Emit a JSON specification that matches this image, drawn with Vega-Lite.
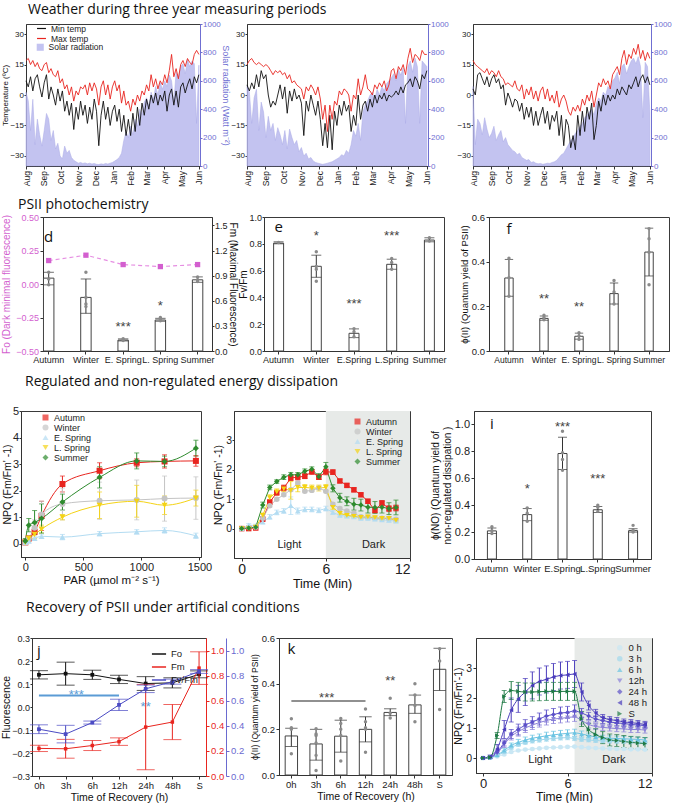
{
"$schema":"https://vega.github.io/schema/vega-lite/v6.json",
"background":"white",
"padding":{"left":0,"top":2,"right":0,"bottom":0},
"config":{
 "font":"Liberation Sans",
 "view":{"stroke":"#3a3a3a","strokeWidth":1},
 "axis":{"labelFont":"Liberation Sans","titleFont":"Liberation Sans","labelFontSize":9,"titleFontSize":10,"titleFontWeight":"normal","labelColor":"#222","titleColor":"#111","domainColor":"#333","tickColor":"#333","tickSize":3,"labelPadding":1.5,"titlePadding":2,"grid":false,"labelOverlap":false,"labelBound":false},
 "legend":{"labelFont":"Liberation Sans","labelColor":"#222","labelFontSize":9,"padding":0,"rowPadding":0,"symbolStrokeWidth":0,"titlePadding":0},
 "title":{"font":"Open Sans","fontSize":14,"fontWeight":"normal","anchor":"start","color":"#111","offset":4},
 "text":{"font":"Liberation Sans"}
},
"datasets":{
"w":[
{"p":"a","date":"2013-08-01","min":7,"max":17,"sol":520},{"p":"a","date":"2013-08-05","min":4,"max":18,"sol":460},{"p":"a","date":"2013-08-09","min":9,"max":15,"sol":250},{"p":"a","date":"2013-08-13","min":2,"max":17,"sol":470},{"p":"a","date":"2013-08-17","min":8,"max":14,"sol":150},{"p":"a","date":"2013-08-21","min":10,"max":16,"sol":330},{"p":"a","date":"2013-08-25","min":4,"max":13,"sol":220},{"p":"a","date":"2013-08-29","min":-1,"max":12,"sol":140},
{"p":"a","date":"2013-09-02","min":6,"max":15,"sol":250},{"p":"a","date":"2013-09-06","min":10,"max":16,"sol":370},{"p":"a","date":"2013-09-10","min":-2,"max":11,"sol":330},{"p":"a","date":"2013-09-14","min":4,"max":13,"sol":180},{"p":"a","date":"2013-09-18","min":0,"max":10,"sol":250},{"p":"a","date":"2013-09-22","min":-5,"max":9,"sol":120},{"p":"a","date":"2013-09-26","min":3,"max":12,"sol":160},{"p":"a","date":"2013-09-30","min":-3,"max":6,"sol":70},
{"p":"a","date":"2013-10-04","min":2,"max":8,"sol":50},{"p":"a","date":"2013-10-08","min":-8,"max":3,"sol":140},{"p":"a","date":"2013-10-12","min":-3,"max":5,"sol":90},{"p":"a","date":"2013-10-16","min":-10,"max":0,"sol":110},{"p":"a","date":"2013-10-20","min":-4,"max":4,"sol":60},{"p":"a","date":"2013-10-24","min":-17,"max":-3,"sol":40},{"p":"a","date":"2013-10-28","min":-6,"max":2,"sol":30},
{"p":"a","date":"2013-11-01","min":-12,"max":0,"sol":20},{"p":"a","date":"2013-11-05","min":-3,"max":4,"sol":25},{"p":"a","date":"2013-11-09","min":-10,"max":3,"sol":18},{"p":"a","date":"2013-11-13","min":-5,"max":5,"sol":22},{"p":"a","date":"2013-11-17","min":-14,"max":0,"sol":15},{"p":"a","date":"2013-11-21","min":-6,"max":6,"sol":20},{"p":"a","date":"2013-11-25","min":-12,"max":2,"sol":14},{"p":"a","date":"2013-11-29","min":-2,"max":6,"sol":18},
{"p":"a","date":"2013-12-03","min":-8,"max":3,"sol":12},{"p":"a","date":"2013-12-07","min":-25,"max":-5,"sol":10},{"p":"a","date":"2013-12-11","min":-10,"max":4,"sol":15},{"p":"a","date":"2013-12-15","min":-3,"max":7,"sol":12},{"p":"a","date":"2013-12-19","min":-12,"max":0,"sol":18},{"p":"a","date":"2013-12-23","min":-6,"max":5,"sol":14},{"p":"a","date":"2013-12-27","min":-15,"max":-2,"sol":20},{"p":"a","date":"2013-12-31","min":-8,"max":4,"sol":25},
{"p":"a","date":"2014-01-04","min":-5,"max":7,"sol":35},{"p":"a","date":"2014-01-08","min":-13,"max":2,"sol":45},{"p":"a","date":"2014-01-12","min":-7,"max":5,"sol":60},{"p":"a","date":"2014-01-16","min":-18,"max":-4,"sol":90},{"p":"a","date":"2014-01-20","min":-10,"max":2,"sol":180},{"p":"a","date":"2014-01-24","min":-20,"max":-5,"sol":240},{"p":"a","date":"2014-01-28","min":-12,"max":-3,"sol":200},
{"p":"a","date":"2014-02-01","min":-20,"max":-8,"sol":280},{"p":"a","date":"2014-02-05","min":-9,"max":-2,"sol":220},{"p":"a","date":"2014-02-09","min":-18,"max":-5,"sol":330},{"p":"a","date":"2014-02-13","min":-6,"max":0,"sol":280},{"p":"a","date":"2014-02-17","min":-15,"max":-3,"sol":400},{"p":"a","date":"2014-02-21","min":-4,"max":2,"sol":360},{"p":"a","date":"2014-02-25","min":-10,"max":0,"sol":450},
{"p":"a","date":"2014-03-01","min":-2,"max":5,"sol":480},{"p":"a","date":"2014-03-05","min":-7,"max":2,"sol":420},{"p":"a","date":"2014-03-09","min":0,"max":10,"sol":520},{"p":"a","date":"2014-03-13","min":-4,"max":4,"sol":470},{"p":"a","date":"2014-03-17","min":1,"max":8,"sol":560},{"p":"a","date":"2014-03-21","min":-5,"max":3,"sol":500},{"p":"a","date":"2014-03-25","min":0,"max":7,"sol":590},{"p":"a","date":"2014-03-29","min":-3,"max":5,"sol":540},
{"p":"a","date":"2014-04-02","min":2,"max":10,"sol":600},{"p":"a","date":"2014-04-06","min":-8,"max":6,"sol":560},{"p":"a","date":"2014-04-10","min":0,"max":12,"sol":640},{"p":"a","date":"2014-04-14","min":3,"max":20,"sol":600},{"p":"a","date":"2014-04-18","min":-5,"max":9,"sol":450},{"p":"a","date":"2014-04-22","min":2,"max":13,"sol":660},{"p":"a","date":"2014-04-26","min":-6,"max":8,"sol":620},{"p":"a","date":"2014-04-30","min":4,"max":15,"sol":700},
{"p":"a","date":"2014-05-04","min":6,"max":17,"sol":720},{"p":"a","date":"2014-05-08","min":1,"max":14,"sol":650},{"p":"a","date":"2014-05-12","min":5,"max":18,"sol":750},{"p":"a","date":"2014-05-16","min":8,"max":16,"sol":700},{"p":"a","date":"2014-05-20","min":3,"max":15,"sol":740},{"p":"a","date":"2014-05-24","min":9,"max":20,"sol":720},{"p":"a","date":"2014-05-28","min":6,"max":22,"sol":300},{"p":"a","date":"2014-06-01","min":10,"max":20,"sol":710},

{"p":"b","date":"2013-08-01","min":5,"max":15,"sol":560},{"p":"b","date":"2013-08-05","min":2,"max":17,"sol":520},{"p":"b","date":"2013-08-09","min":6,"max":18,"sol":300},{"p":"b","date":"2013-08-13","min":3,"max":16,"sol":480},{"p":"b","date":"2013-08-17","min":10,"max":15,"sol":540},{"p":"b","date":"2013-08-21","min":4,"max":16,"sol":250},{"p":"b","date":"2013-08-25","min":12,"max":15,"sol":450},{"p":"b","date":"2013-08-29","min":8,"max":14,"sol":380},
{"p":"b","date":"2013-09-02","min":10,"max":15,"sol":200},{"p":"b","date":"2013-09-06","min":0,"max":14,"sol":350},{"p":"b","date":"2013-09-10","min":-6,"max":12,"sol":250},{"p":"b","date":"2013-09-14","min":-3,"max":10,"sol":300},{"p":"b","date":"2013-09-18","min":-5,"max":12,"sol":180},{"p":"b","date":"2013-09-22","min":0,"max":11,"sol":270},{"p":"b","date":"2013-09-26","min":5,"max":12,"sol":220},{"p":"b","date":"2013-09-30","min":-2,"max":10,"sol":150},
{"p":"b","date":"2013-10-04","min":4,"max":11,"sol":250},{"p":"b","date":"2013-10-08","min":-9,"max":8,"sol":120},{"p":"b","date":"2013-10-12","min":2,"max":10,"sol":260},{"p":"b","date":"2013-10-16","min":-3,"max":6,"sol":200},{"p":"b","date":"2013-10-20","min":3,"max":7,"sol":150},{"p":"b","date":"2013-10-24","min":-2,"max":5,"sol":180},{"p":"b","date":"2013-10-28","min":0,"max":4,"sol":100},
{"p":"b","date":"2013-11-01","min":-4,"max":3,"sol":130},{"p":"b","date":"2013-11-05","min":-20,"max":-2,"sol":70},{"p":"b","date":"2013-11-09","min":-3,"max":4,"sol":90},{"p":"b","date":"2013-11-13","min":-8,"max":2,"sol":50},{"p":"b","date":"2013-11-17","min":0,"max":5,"sol":60},{"p":"b","date":"2013-11-21","min":-5,"max":3,"sol":35},{"p":"b","date":"2013-11-25","min":-10,"max":0,"sol":25},{"p":"b","date":"2013-11-29","min":-3,"max":4,"sol":20},
{"p":"b","date":"2013-12-03","min":-12,"max":-2,"sol":15},{"p":"b","date":"2013-12-07","min":-25,"max":-12,"sol":12},{"p":"b","date":"2013-12-11","min":-14,"max":-5,"sol":15},{"p":"b","date":"2013-12-15","min":-26,"max":-18,"sol":20},{"p":"b","date":"2013-12-19","min":-10,"max":-5,"sol":25},{"p":"b","date":"2013-12-23","min":-27,"max":-12,"sol":30},{"p":"b","date":"2013-12-27","min":-8,"max":-3,"sol":40},{"p":"b","date":"2013-12-31","min":-15,"max":-5,"sol":50},
{"p":"b","date":"2014-01-04","min":-5,"max":2,"sol":60},{"p":"b","date":"2014-01-08","min":-10,"max":0,"sol":80},{"p":"b","date":"2014-01-12","min":-3,"max":3,"sol":70},{"p":"b","date":"2014-01-16","min":-8,"max":2,"sol":110},{"p":"b","date":"2014-01-20","min":-5,"max":0,"sol":90},{"p":"b","date":"2014-01-24","min":-18,"max":-8,"sol":150},{"p":"b","date":"2014-01-28","min":-10,"max":0,"sol":250},
{"p":"b","date":"2014-02-01","min":-15,"max":-2,"sol":210},{"p":"b","date":"2014-02-05","min":0,"max":8,"sol":300},{"p":"b","date":"2014-02-09","min":-12,"max":0,"sol":180},{"p":"b","date":"2014-02-13","min":-5,"max":4,"sol":380},{"p":"b","date":"2014-02-17","min":-3,"max":10,"sol":430},{"p":"b","date":"2014-02-21","min":-8,"max":3,"sol":460},{"p":"b","date":"2014-02-25","min":-2,"max":2,"sol":500},
{"p":"b","date":"2014-03-01","min":-6,"max":0,"sol":520},{"p":"b","date":"2014-03-05","min":0,"max":5,"sol":470},{"p":"b","date":"2014-03-09","min":-4,"max":3,"sol":540},{"p":"b","date":"2014-03-13","min":0,"max":6,"sol":500},{"p":"b","date":"2014-03-17","min":-2,"max":4,"sol":560},{"p":"b","date":"2014-03-21","min":1,"max":7,"sol":530},{"p":"b","date":"2014-03-25","min":-3,"max":2,"sol":580},{"p":"b","date":"2014-03-29","min":0,"max":5,"sol":600},
{"p":"b","date":"2014-04-02","min":-1,"max":12,"sol":620},{"p":"b","date":"2014-04-06","min":0,"max":13,"sol":650},{"p":"b","date":"2014-04-10","min":2,"max":8,"sol":600},{"p":"b","date":"2014-04-14","min":0,"max":14,"sol":680},{"p":"b","date":"2014-04-18","min":4,"max":12,"sol":640},{"p":"b","date":"2014-04-22","min":1,"max":15,"sol":690},{"p":"b","date":"2014-04-26","min":5,"max":10,"sol":300},{"p":"b","date":"2014-04-30","min":6,"max":18,"sol":700},
{"p":"b","date":"2014-05-04","min":8,"max":23,"sol":740},{"p":"b","date":"2014-05-08","min":4,"max":16,"sol":660},{"p":"b","date":"2014-05-12","min":9,"max":20,"sol":760},{"p":"b","date":"2014-05-16","min":7,"max":19,"sol":700},{"p":"b","date":"2014-05-20","min":3,"max":17,"sol":300},{"p":"b","date":"2014-05-24","min":10,"max":22,"sol":740},{"p":"b","date":"2014-05-28","min":8,"max":20,"sol":720},{"p":"b","date":"2014-06-01","min":12,"max":20,"sol":700},

{"p":"c","date":"2013-08-01","min":3,"max":17,"sol":560},{"p":"c","date":"2013-08-05","min":0,"max":15,"sol":150},{"p":"c","date":"2013-08-09","min":10,"max":14,"sol":330},{"p":"c","date":"2013-08-13","min":11,"max":13,"sol":300},{"p":"c","date":"2013-08-17","min":8,"max":12,"sol":220},{"p":"c","date":"2013-08-21","min":5,"max":11,"sol":340},{"p":"c","date":"2013-08-25","min":9,"max":13,"sol":260},{"p":"c","date":"2013-08-29","min":4,"max":10,"sol":200},
{"p":"c","date":"2013-09-02","min":8,"max":12,"sol":230},{"p":"c","date":"2013-09-06","min":10,"max":11,"sol":280},{"p":"c","date":"2013-09-10","min":6,"max":9,"sol":180},{"p":"c","date":"2013-09-14","min":8,"max":12,"sol":220},{"p":"c","date":"2013-09-18","min":3,"max":9,"sol":250},{"p":"c","date":"2013-09-22","min":5,"max":8,"sol":170},{"p":"c","date":"2013-09-26","min":-5,"max":5,"sol":200},{"p":"c","date":"2013-09-30","min":1,"max":6,"sol":150},
{"p":"c","date":"2013-10-04","min":-2,"max":5,"sol":130},{"p":"c","date":"2013-10-08","min":-6,"max":4,"sol":110},{"p":"c","date":"2013-10-12","min":-2,"max":7,"sol":100},{"p":"c","date":"2013-10-16","min":-3,"max":3,"sol":80},{"p":"c","date":"2013-10-20","min":-8,"max":2,"sol":90},{"p":"c","date":"2013-10-24","min":-4,"max":5,"sol":60},{"p":"c","date":"2013-10-28","min":-12,"max":-2,"sol":50},
{"p":"c","date":"2013-11-01","min":-6,"max":3,"sol":40},{"p":"c","date":"2013-11-05","min":-11,"max":0,"sol":45},{"p":"c","date":"2013-11-09","min":-6,"max":4,"sol":25},{"p":"c","date":"2013-11-13","min":-15,"max":-2,"sol":30},{"p":"c","date":"2013-11-17","min":-8,"max":2,"sol":20},{"p":"c","date":"2013-11-21","min":-15,"max":-3,"sol":15},{"p":"c","date":"2013-11-25","min":-10,"max":2,"sol":18},{"p":"c","date":"2013-11-29","min":-6,"max":4,"sol":12},
{"p":"c","date":"2013-12-03","min":-14,"max":-2,"sol":15},{"p":"c","date":"2013-12-07","min":-8,"max":3,"sol":20},{"p":"c","date":"2013-12-11","min":-17,"max":-3,"sol":18},{"p":"c","date":"2013-12-15","min":-10,"max":0,"sol":25},{"p":"c","date":"2013-12-19","min":-13,"max":-4,"sol":30},{"p":"c","date":"2013-12-23","min":-8,"max":2,"sol":40},{"p":"c","date":"2013-12-27","min":-20,"max":-6,"sol":60},{"p":"c","date":"2013-12-31","min":-10,"max":-2,"sol":80},
{"p":"c","date":"2014-01-04","min":-25,"max":0,"sol":90},{"p":"c","date":"2014-01-08","min":-12,"max":-3,"sol":120},{"p":"c","date":"2014-01-12","min":-15,"max":-8,"sol":150},{"p":"c","date":"2014-01-16","min":-26,"max":-10,"sol":180},{"p":"c","date":"2014-01-20","min":-20,"max":-6,"sol":200},{"p":"c","date":"2014-01-24","min":-27,"max":-8,"sol":230},{"p":"c","date":"2014-01-28","min":-10,"max":-5,"sol":250},
{"p":"c","date":"2014-02-01","min":-20,"max":-8,"sol":280},{"p":"c","date":"2014-02-05","min":-8,"max":-2,"sol":300},{"p":"c","date":"2014-02-09","min":-18,"max":-5,"sol":340},{"p":"c","date":"2014-02-13","min":-6,"max":0,"sol":360},{"p":"c","date":"2014-02-17","min":-12,"max":-3,"sol":380},{"p":"c","date":"2014-02-21","min":-4,"max":2,"sol":400},{"p":"c","date":"2014-02-25","min":-22,"max":-6,"sol":360},
{"p":"c","date":"2014-03-01","min":-15,"max":0,"sol":440},{"p":"c","date":"2014-03-05","min":-3,"max":6,"sol":480},{"p":"c","date":"2014-03-09","min":-8,"max":4,"sol":460},{"p":"c","date":"2014-03-13","min":0,"max":8,"sol":520},{"p":"c","date":"2014-03-17","min":-5,"max":5,"sol":500},{"p":"c","date":"2014-03-21","min":0,"max":7,"sol":560},{"p":"c","date":"2014-03-25","min":-3,"max":3,"sol":540},{"p":"c","date":"2014-03-29","min":0,"max":10,"sol":600},
{"p":"c","date":"2014-04-02","min":-2,"max":12,"sol":620},{"p":"c","date":"2014-04-06","min":3,"max":14,"sol":660},{"p":"c","date":"2014-04-10","min":0,"max":10,"sol":580},{"p":"c","date":"2014-04-14","min":4,"max":18,"sol":700},{"p":"c","date":"2014-04-18","min":2,"max":22,"sol":720},{"p":"c","date":"2014-04-22","min":0,"max":15,"sol":650},{"p":"c","date":"2014-04-26","min":5,"max":20,"sol":700},{"p":"c","date":"2014-04-30","min":3,"max":18,"sol":740},
{"p":"c","date":"2014-05-04","min":6,"max":23,"sol":760},{"p":"c","date":"2014-05-08","min":9,"max":20,"sol":720},{"p":"c","date":"2014-05-12","min":4,"max":25,"sol":770},{"p":"c","date":"2014-05-16","min":8,"max":18,"sol":700},{"p":"c","date":"2014-05-20","min":10,"max":22,"sol":340},{"p":"c","date":"2014-05-24","min":6,"max":17,"sol":730},{"p":"c","date":"2014-05-28","min":9,"max":21,"sol":700},{"p":"c","date":"2014-06-01","min":5,"max":18,"sol":380}
],
"bars":[
{"p":"d","c":"Autumn","m":0.87,"lo":0.79,"hi":0.94},{"p":"d","c":"Winter","m":0.64,"lo":0.45,"hi":0.86},{"p":"d","c":"E. Spring","m":0.13,"lo":0.12,"hi":0.145},{"p":"d","c":"L. Spring","m":0.37,"lo":0.355,"hi":0.39},{"p":"d","c":"Summer","m":0.85,"lo":0.82,"hi":0.885},
{"p":"e","c":"Autumn","m":0.805,"lo":0.8,"hi":0.815},{"p":"e","c":"Winter","m":0.632,"lo":0.55,"hi":0.715},{"p":"e","c":"E.Spring","m":0.132,"lo":0.1,"hi":0.165},{"p":"e","c":"L.Spring","m":0.647,"lo":0.61,"hi":0.685},{"p":"e","c":"Summer","m":0.828,"lo":0.815,"hi":0.845},
{"p":"f","c":"Autumn","m":0.327,"lo":0.245,"hi":0.41},{"p":"f","c":"Winter","m":0.146,"lo":0.138,"hi":0.157},{"p":"f","c":"E. Spring","m":0.066,"lo":0.053,"hi":0.08},{"p":"f","c":"L. Spring","m":0.257,"lo":0.21,"hi":0.305},{"p":"f","c":"Summer","m":0.443,"lo":0.336,"hi":0.55},
{"p":"i","c":"Autumn","m":0.209,"lo":0.19,"hi":0.23},{"p":"i","c":"Winter","m":0.33,"lo":0.285,"hi":0.375},{"p":"i","c":"E.Spring","m":0.784,"lo":0.665,"hi":0.905},{"p":"i","c":"L.Spring","m":0.366,"lo":0.345,"hi":0.39},{"p":"i","c":"Summer","m":0.211,"lo":0.2,"hi":0.225},
{"p":"k","c":"0h","m":0.171,"lo":0.125,"hi":0.205},{"p":"k","c":"3h","m":0.136,"lo":0.065,"hi":0.2},{"p":"k","c":"6h","m":0.17,"lo":0.1,"hi":0.24},{"p":"k","c":"12h","m":0.2,"lo":0.145,"hi":0.255},{"p":"k","c":"24h","m":0.274,"lo":0.26,"hi":0.29},{"p":"k","c":"48h","m":0.307,"lo":0.27,"hi":0.35},{"p":"k","c":"S","m":0.463,"lo":0.37,"hi":0.555}
],
"pts":[
{"p":"d","c":"Autumn","v":0.94},{"p":"d","c":"Autumn","v":0.86},{"p":"d","c":"Autumn","v":0.79},{"p":"d","c":"Winter","v":0.94},{"p":"d","c":"Winter","v":0.64},{"p":"d","c":"Winter","v":0.56},{"p":"d","c":"Winter","v":0.53},{"p":"d","c":"E. Spring","v":0.145},{"p":"d","c":"E. Spring","v":0.125},{"p":"d","c":"L. Spring","v":0.4},{"p":"d","c":"L. Spring","v":0.38},{"p":"d","c":"L. Spring","v":0.36},{"p":"d","c":"Summer","v":0.885},{"p":"d","c":"Summer","v":0.85},{"p":"d","c":"Summer","v":0.83},
{"p":"e","c":"Autumn","v":0.81},{"p":"e","c":"Winter","v":0.74},{"p":"e","c":"Winter","v":0.63},{"p":"e","c":"Winter","v":0.61},{"p":"e","c":"Winter","v":0.52},{"p":"e","c":"E.Spring","v":0.167},{"p":"e","c":"E.Spring","v":0.144},{"p":"e","c":"E.Spring","v":0.107},{"p":"e","c":"L.Spring","v":0.69},{"p":"e","c":"L.Spring","v":0.66},{"p":"e","c":"L.Spring","v":0.61},{"p":"e","c":"Summer","v":0.846},{"p":"e","c":"Summer","v":0.82},
{"p":"f","c":"Autumn","v":0.415},{"p":"f","c":"Autumn","v":0.328},{"p":"f","c":"Autumn","v":0.245},{"p":"f","c":"Winter","v":0.16},{"p":"f","c":"Winter","v":0.15},{"p":"f","c":"Winter","v":0.14},{"p":"f","c":"E. Spring","v":0.082},{"p":"f","c":"E. Spring","v":0.067},{"p":"f","c":"E. Spring","v":0.052},{"p":"f","c":"L. Spring","v":0.316},{"p":"f","c":"L. Spring","v":0.264},{"p":"f","c":"L. Spring","v":0.21},{"p":"f","c":"Summer","v":0.548},{"p":"f","c":"Summer","v":0.503},{"p":"f","c":"Summer","v":0.442},{"p":"f","c":"Summer","v":0.297},
{"p":"i","c":"Autumn","v":0.24},{"p":"i","c":"Autumn","v":0.21},{"p":"i","c":"Autumn","v":0.19},{"p":"i","c":"Winter","v":0.38},{"p":"i","c":"Winter","v":0.34},{"p":"i","c":"Winter","v":0.28},{"p":"i","c":"E.Spring","v":0.95},{"p":"i","c":"E.Spring","v":0.79},{"p":"i","c":"E.Spring","v":0.74},{"p":"i","c":"E.Spring","v":0.66},{"p":"i","c":"L.Spring","v":0.4},{"p":"i","c":"L.Spring","v":0.385},{"p":"i","c":"L.Spring","v":0.354},{"p":"i","c":"Summer","v":0.25},{"p":"i","c":"Summer","v":0.214},{"p":"i","c":"Summer","v":0.2},
{"p":"k","c":"0h","v":0.246},{"p":"k","c":"0h","v":0.207},{"p":"k","c":"0h","v":0.2},{"p":"k","c":"0h","v":0.093},{"p":"k","c":"3h","v":0.203},{"p":"k","c":"3h","v":0.18},{"p":"k","c":"3h","v":0.173},{"p":"k","c":"3h","v":0.14},{"p":"k","c":"3h","v":0.086},{"p":"k","c":"3h","v":0.02},{"p":"k","c":"6h","v":0.247},{"p":"k","c":"6h","v":0.226},{"p":"k","c":"6h","v":0.2},{"p":"k","c":"6h","v":0.173},{"p":"k","c":"6h","v":0.061},{"p":"k","c":"12h","v":0.289},{"p":"k","c":"12h","v":0.233},{"p":"k","c":"12h","v":0.207},{"p":"k","c":"12h","v":0.2},{"p":"k","c":"12h","v":0.1},{"p":"k","c":"24h","v":0.336},{"p":"k","c":"24h","v":0.27},{"p":"k","c":"24h","v":0.25},{"p":"k","c":"48h","v":0.4},{"p":"k","c":"48h","v":0.35},{"p":"k","c":"48h","v":0.304},{"p":"k","c":"48h","v":0.233},{"p":"k","c":"S","v":0.553},{"p":"k","c":"S","v":0.499},{"p":"k","c":"S","v":0.287}
],
"stars":[
{"p":"d","c":"E. Spring","y":0.29,"t":"***"},{"p":"d","c":"L. Spring","y":0.54,"t":"*"},
{"p":"e","c":"Winter","y":0.855,"t":"*"},{"p":"e","c":"E.Spring","y":0.35,"t":"***"},{"p":"e","c":"L.Spring","y":0.855,"t":"***"},
{"p":"f","c":"Winter","y":0.235,"t":"**"},{"p":"f","c":"E. Spring","y":0.195,"t":"**"},
{"p":"i","c":"Winter","y":0.523,"t":"*"},{"p":"i","c":"E.Spring","y":0.978,"t":"***"},{"p":"i","c":"L.Spring","y":0.598,"t":"***"},
{"p":"k","c":"24h","y":0.41,"t":"**"}
],
"fo":[{"c":"Autumn","v":0.175},{"c":"Winter","v":0.215},{"c":"E. Spring","v":0.145},{"c":"L. Spring","v":0.13},{"c":"Summer","v":0.145}],
"g":[
{"s":"Autumn","x":0,"v":0.05,"e":0.03},{"s":"Autumn","x":30,"v":0.2,"e":0.05},{"s":"Autumn","x":80,"v":0.45,"e":0.1},{"s":"Autumn","x":140,"v":1.05,"e":0.55},{"s":"Autumn","x":320,"v":2.25,"e":0.3},{"s":"Autumn","x":640,"v":2.75,"e":0.3},{"s":"Autumn","x":960,"v":3.05,"e":0.15},{"s":"Autumn","x":1200,"v":3.1,"e":0.25},{"s":"Autumn","x":1470,"v":3.12,"e":0.2},
{"s":"Winter","x":0,"v":0.05,"e":0.05},{"s":"Winter","x":30,"v":0.2,"e":0.1},{"s":"Winter","x":80,"v":0.6,"e":0.3},{"s":"Winter","x":140,"v":1.1,"e":0.5},{"s":"Winter","x":320,"v":1.5,"e":0.6},{"s":"Winter","x":640,"v":1.62,"e":0.7},{"s":"Winter","x":960,"v":1.65,"e":0.75},{"s":"Winter","x":1200,"v":1.7,"e":0.85},{"s":"Winter","x":1470,"v":1.72,"e":0.8},
{"s":"E. Spring","x":0,"v":0.05,"e":0.02},{"s":"E. Spring","x":30,"v":0.1,"e":0.05},{"s":"E. Spring","x":80,"v":0.2,"e":0.05},{"s":"E. Spring","x":140,"v":0.28,"e":0.08},{"s":"E. Spring","x":320,"v":0.25,"e":0.1},{"s":"E. Spring","x":640,"v":0.38,"e":0.08},{"s":"E. Spring","x":960,"v":0.45,"e":0.08},{"s":"E. Spring","x":1200,"v":0.5,"e":0.1},{"s":"E. Spring","x":1470,"v":0.3,"e":0.1},
{"s":"L. Spring","x":0,"v":0.05,"e":0.03},{"s":"L. Spring","x":30,"v":0.2,"e":0.1},{"s":"L. Spring","x":80,"v":0.35,"e":0.15},{"s":"L. Spring","x":140,"v":0.55,"e":0.15},{"s":"L. Spring","x":320,"v":1.0,"e":0.1},{"s":"L. Spring","x":640,"v":1.45,"e":0.5},{"s":"L. Spring","x":960,"v":1.6,"e":0.6},{"s":"L. Spring","x":1200,"v":1.45,"e":0.35},{"s":"L. Spring","x":1470,"v":1.72,"e":0.3},
{"s":"Summer","x":0,"v":0.1,"e":0.1},{"s":"Summer","x":30,"v":0.7,"e":0.25},{"s":"Summer","x":80,"v":0.8,"e":0.45},{"s":"Summer","x":140,"v":0.95,"e":0.55},{"s":"Summer","x":320,"v":1.57,"e":0.3},{"s":"Summer","x":640,"v":2.5,"e":0.4},{"s":"Summer","x":960,"v":3.12,"e":0.3},{"s":"Summer","x":1200,"v":3.1,"e":0.2},{"s":"Summer","x":1470,"v":3.6,"e":0.3}
],
"h":[
{"s":"Autumn","t":0,"v":0,"e":0},{"s":"Autumn","t":0.5,"v":0,"e":0},{"s":"Autumn","t":1,"v":0.02,"e":0.02},{"s":"Autumn","t":1.5,"v":0.32,"e":0.05},{"s":"Autumn","t":2,"v":0.9,"e":0.08},{"s":"Autumn","t":2.5,"v":1.22,"e":0.08},{"s":"Autumn","t":3,"v":1.38,"e":0.1},{"s":"Autumn","t":3.5,"v":1.72,"e":0.08},{"s":"Autumn","t":4,"v":1.75,"e":0.1},{"s":"Autumn","t":4.5,"v":1.78,"e":0.08},{"s":"Autumn","t":5,"v":1.93,"e":0.08},{"s":"Autumn","t":5.5,"v":1.75,"e":0.08},{"s":"Autumn","t":6,"v":1.93,"e":0.1},{"s":"Autumn","t":6.5,"v":1.92,"e":0.08},{"s":"Autumn","t":7,"v":1.62,"e":0.06},{"s":"Autumn","t":7.5,"v":1.47,"e":0.06},{"s":"Autumn","t":8,"v":1.32,"e":0.07},{"s":"Autumn","t":8.5,"v":1.15,"e":0.06},{"s":"Autumn","t":9,"v":0.93,"e":0.07},{"s":"Autumn","t":9.5,"v":0.62,"e":0.08},{"s":"Autumn","t":10,"v":0.87,"e":0.08},{"s":"Autumn","t":10.5,"v":0.68,"e":0.1},{"s":"Autumn","t":11,"v":0.7,"e":0.1},
{"s":"Winter","t":0,"v":0,"e":0},{"s":"Winter","t":0.5,"v":0.05,"e":0.05},{"s":"Winter","t":1,"v":0.05,"e":0.05},{"s":"Winter","t":1.5,"v":0.35,"e":0.05},{"s":"Winter","t":2,"v":0.78,"e":0.05},{"s":"Winter","t":2.5,"v":1.0,"e":0.05},{"s":"Winter","t":3,"v":1.15,"e":0.05},{"s":"Winter","t":3.5,"v":1.32,"e":0.05},{"s":"Winter","t":4,"v":1.55,"e":0.05},{"s":"Winter","t":4.5,"v":1.27,"e":0.05},{"s":"Winter","t":5,"v":1.3,"e":0.05},{"s":"Winter","t":5.5,"v":1.38,"e":0.05},{"s":"Winter","t":6,"v":1.27,"e":0.05},{"s":"Winter","t":6.5,"v":0.83,"e":0.05},{"s":"Winter","t":7,"v":0.68,"e":0.05},{"s":"Winter","t":7.5,"v":0.6,"e":0.05},{"s":"Winter","t":8,"v":0.52,"e":0.05},{"s":"Winter","t":8.5,"v":0.4,"e":0.05},{"s":"Winter","t":9,"v":0.38,"e":0.05},{"s":"Winter","t":9.5,"v":0.35,"e":0.05},{"s":"Winter","t":10,"v":0.35,"e":0.05},{"s":"Winter","t":10.5,"v":0.35,"e":0.05},{"s":"Winter","t":11,"v":0.32,"e":0.05},
{"s":"E. Spring","t":0,"v":0,"e":0},{"s":"E. Spring","t":0.5,"v":0.12,"e":0.05},{"s":"E. Spring","t":1,"v":0.1,"e":0.05},{"s":"E. Spring","t":1.5,"v":0.22,"e":0.05},{"s":"E. Spring","t":2,"v":0.4,"e":0.08},{"s":"E. Spring","t":2.5,"v":0.55,"e":0.08},{"s":"E. Spring","t":3,"v":0.6,"e":0.08},{"s":"E. Spring","t":3.5,"v":0.78,"e":0.3},{"s":"E. Spring","t":4,"v":0.6,"e":0.1},{"s":"E. Spring","t":4.5,"v":0.65,"e":0.08},{"s":"E. Spring","t":5,"v":0.65,"e":0.08},{"s":"E. Spring","t":5.5,"v":0.62,"e":0.08},{"s":"E. Spring","t":6,"v":0.68,"e":0.08},{"s":"E. Spring","t":6.5,"v":0.55,"e":0.06},{"s":"E. Spring","t":7,"v":0.45,"e":0.05},{"s":"E. Spring","t":7.5,"v":0.42,"e":0.05},{"s":"E. Spring","t":8,"v":0.4,"e":0.05},{"s":"E. Spring","t":8.5,"v":0.35,"e":0.05},{"s":"E. Spring","t":9,"v":0.35,"e":0.05},{"s":"E. Spring","t":9.5,"v":0.32,"e":0.05},{"s":"E. Spring","t":10,"v":0.3,"e":0.05},{"s":"E. Spring","t":10.5,"v":0.28,"e":0.05},{"s":"E. Spring","t":11,"v":0.25,"e":0.05},
{"s":"L. Spring","t":0,"v":0,"e":0},{"s":"L. Spring","t":0.5,"v":0,"e":0},{"s":"L. Spring","t":1,"v":0.05,"e":0.02},{"s":"L. Spring","t":1.5,"v":0.45,"e":0.08},{"s":"L. Spring","t":2,"v":1.05,"e":0.1},{"s":"L. Spring","t":2.5,"v":1.25,"e":0.1},{"s":"L. Spring","t":3,"v":1.35,"e":0.1},{"s":"L. Spring","t":3.5,"v":1.3,"e":0.3},{"s":"L. Spring","t":4,"v":1.4,"e":0.15},{"s":"L. Spring","t":4.5,"v":1.4,"e":0.1},{"s":"L. Spring","t":5,"v":1.38,"e":0.1},{"s":"L. Spring","t":5.5,"v":1.38,"e":0.1},{"s":"L. Spring","t":6,"v":1.4,"e":0.1},{"s":"L. Spring","t":6.5,"v":0.72,"e":0.06},{"s":"L. Spring","t":7,"v":0.52,"e":0.05},{"s":"L. Spring","t":7.5,"v":0.45,"e":0.05},{"s":"L. Spring","t":8,"v":0.42,"e":0.05},{"s":"L. Spring","t":8.5,"v":0.38,"e":0.05},{"s":"L. Spring","t":9,"v":0.4,"e":0.05},{"s":"L. Spring","t":9.5,"v":0.37,"e":0.05},{"s":"L. Spring","t":10,"v":0.35,"e":0.05},{"s":"L. Spring","t":10.5,"v":0.35,"e":0.05},{"s":"L. Spring","t":11,"v":0.28,"e":0.05},
{"s":"Summer","t":0,"v":0,"e":0},{"s":"Summer","t":0.5,"v":0.02,"e":0.02},{"s":"Summer","t":1,"v":0.05,"e":0.02},{"s":"Summer","t":1.5,"v":0.8,"e":0.1},{"s":"Summer","t":2,"v":1.4,"e":0.08},{"s":"Summer","t":2.5,"v":1.6,"e":0.06},{"s":"Summer","t":3,"v":1.75,"e":0.08},{"s":"Summer","t":3.5,"v":1.83,"e":0.08},{"s":"Summer","t":4,"v":1.83,"e":0.08},{"s":"Summer","t":4.5,"v":1.95,"e":0.08},{"s":"Summer","t":5,"v":2.02,"e":0.08},{"s":"Summer","t":5.5,"v":1.77,"e":0.1},{"s":"Summer","t":6,"v":2.1,"e":0.15},{"s":"Summer","t":6.5,"v":1.37,"e":0.12},{"s":"Summer","t":7,"v":1.05,"e":0.15},{"s":"Summer","t":7.5,"v":0.93,"e":0.15},{"s":"Summer","t":8,"v":0.83,"e":0.2},{"s":"Summer","t":8.5,"v":0.8,"e":0.2},{"s":"Summer","t":9,"v":0.73,"e":0.2},{"s":"Summer","t":9.5,"v":0.72,"e":0.2},{"s":"Summer","t":10,"v":0.73,"e":0.2},{"s":"Summer","t":10.5,"v":0.68,"e":0.2},{"s":"Summer","t":11,"v":0.72,"e":0.25}
],
"j":[
{"s":"Fo","c":"0h","v":0.14,"e":0.018},{"s":"Fo","c":"3h","v":0.145,"e":0.05},{"s":"Fo","c":"6h","v":0.14,"e":0.02},{"s":"Fo","c":"12h","v":0.12,"e":0.018},{"s":"Fo","c":"24h","v":0.102,"e":0.03},{"s":"Fo","c":"48h","v":0.105,"e":0.022},{"s":"Fo","c":"S","v":0.142,"e":0.015},
{"s":"Fm","c":"0h","v":0.22,"e":0.025},{"s":"Fm","c":"3h","v":0.217,"e":0.075},{"s":"Fm","c":"6h","v":0.243,"e":0.04},{"s":"Fm","c":"12h","v":0.274,"e":0.03},{"s":"Fm","c":"24h","v":0.39,"e":0.34},{"s":"Fm","c":"48h","v":0.43,"e":0.14},{"s":"Fm","c":"S","v":0.86,"e":0.13},
{"s":"Fv/Fm","c":"0h","v":0.373,"e":0.035},{"s":"Fv/Fm","c":"3h","v":0.334,"e":0.07},{"s":"Fv/Fm","c":"6h","v":0.426,"e":0.012},{"s":"Fv/Fm","c":"12h","v":0.567,"e":0.045},{"s":"Fv/Fm","c":"24h","v":0.695,"e":0.03},{"s":"Fv/Fm","c":"48h","v":0.752,"e":0.02},{"s":"Fv/Fm","c":"S","v":0.833,"e":0.015}
],
"l":[
{"s":"0 h","t":0,"v":0,"e":0},{"s":"0 h","t":0.5,"v":0.01,"e":0.01},{"s":"0 h","t":1,"v":0.05,"e":0.02},{"s":"0 h","t":1.5,"v":0.12,"e":0.03},{"s":"0 h","t":2,"v":0.2,"e":0.03},{"s":"0 h","t":2.5,"v":0.25,"e":0.03},{"s":"0 h","t":3,"v":0.28,"e":0.03},{"s":"0 h","t":3.5,"v":0.3,"e":0.03},{"s":"0 h","t":4,"v":0.32,"e":0.03},{"s":"0 h","t":4.5,"v":0.34,"e":0.03},{"s":"0 h","t":5,"v":0.35,"e":0.03},{"s":"0 h","t":5.5,"v":0.36,"e":0.03},{"s":"0 h","t":6,"v":0.37,"e":0.03},{"s":"0 h","t":6.5,"v":0.38,"e":0.03},{"s":"0 h","t":7,"v":0.36,"e":0.03},{"s":"0 h","t":7.5,"v":0.34,"e":0.03},{"s":"0 h","t":8,"v":0.33,"e":0.03},{"s":"0 h","t":8.5,"v":0.32,"e":0.03},{"s":"0 h","t":9,"v":0.31,"e":0.03},{"s":"0 h","t":9.5,"v":0.3,"e":0.03},{"s":"0 h","t":10,"v":0.3,"e":0.03},{"s":"0 h","t":10.5,"v":0.29,"e":0.03},{"s":"0 h","t":11,"v":0.29,"e":0.03},{"s":"0 h","t":11.5,"v":0.28,"e":0.03},
{"s":"3 h","t":0,"v":0,"e":0},{"s":"3 h","t":0.5,"v":0.02,"e":0.02},{"s":"3 h","t":1,"v":0.08,"e":0.03},{"s":"3 h","t":1.5,"v":0.2,"e":0.05},{"s":"3 h","t":2,"v":0.35,"e":0.06},{"s":"3 h","t":2.5,"v":0.45,"e":0.06},{"s":"3 h","t":3,"v":0.52,"e":0.06},{"s":"3 h","t":3.5,"v":0.57,"e":0.07},{"s":"3 h","t":4,"v":0.6,"e":0.07},{"s":"3 h","t":4.5,"v":0.63,"e":0.07},{"s":"3 h","t":5,"v":0.65,"e":0.07},{"s":"3 h","t":5.5,"v":0.67,"e":0.07},{"s":"3 h","t":6,"v":0.68,"e":0.07},{"s":"3 h","t":6.5,"v":0.65,"e":0.07},{"s":"3 h","t":7,"v":0.62,"e":0.06},{"s":"3 h","t":7.5,"v":0.6,"e":0.06},{"s":"3 h","t":8,"v":0.58,"e":0.06},{"s":"3 h","t":8.5,"v":0.57,"e":0.06},{"s":"3 h","t":9,"v":0.56,"e":0.06},{"s":"3 h","t":9.5,"v":0.55,"e":0.06},{"s":"3 h","t":10,"v":0.55,"e":0.06},{"s":"3 h","t":10.5,"v":0.54,"e":0.06},{"s":"3 h","t":11,"v":0.53,"e":0.06},{"s":"3 h","t":11.5,"v":0.52,"e":0.06},
{"s":"6 h","t":0,"v":0,"e":0},{"s":"6 h","t":0.5,"v":0.02,"e":0.02},{"s":"6 h","t":1,"v":0.1,"e":0.04},{"s":"6 h","t":1.5,"v":0.25,"e":0.06},{"s":"6 h","t":2,"v":0.42,"e":0.08},{"s":"6 h","t":2.5,"v":0.52,"e":0.1},{"s":"6 h","t":3,"v":0.6,"e":0.1},{"s":"6 h","t":3.5,"v":0.66,"e":0.1},{"s":"6 h","t":4,"v":0.7,"e":0.1},{"s":"6 h","t":4.5,"v":0.74,"e":0.12},{"s":"6 h","t":5,"v":0.77,"e":0.12},{"s":"6 h","t":5.5,"v":0.8,"e":0.12},{"s":"6 h","t":6,"v":0.82,"e":0.12},{"s":"6 h","t":6.5,"v":0.84,"e":0.12},{"s":"6 h","t":7,"v":0.8,"e":0.1},{"s":"6 h","t":7.5,"v":0.75,"e":0.08},{"s":"6 h","t":8,"v":0.7,"e":0.08},{"s":"6 h","t":8.5,"v":0.68,"e":0.08},{"s":"6 h","t":9,"v":0.66,"e":0.08},{"s":"6 h","t":9.5,"v":0.65,"e":0.08},{"s":"6 h","t":10,"v":0.64,"e":0.08},{"s":"6 h","t":10.5,"v":0.63,"e":0.08},{"s":"6 h","t":11,"v":0.62,"e":0.08},{"s":"6 h","t":11.5,"v":0.6,"e":0.08},
{"s":"12h","t":0,"v":0,"e":0},{"s":"12h","t":0.5,"v":0.02,"e":0.02},{"s":"12h","t":1,"v":0.15,"e":0.05},{"s":"12h","t":1.5,"v":0.45,"e":0.1},{"s":"12h","t":2,"v":0.72,"e":0.12},{"s":"12h","t":2.5,"v":0.88,"e":0.15},{"s":"12h","t":3,"v":1.0,"e":0.15},{"s":"12h","t":3.5,"v":1.1,"e":0.15},{"s":"12h","t":4,"v":1.18,"e":0.15},{"s":"12h","t":4.5,"v":1.25,"e":0.15},{"s":"12h","t":5,"v":1.3,"e":0.15},{"s":"12h","t":5.5,"v":1.32,"e":0.15},{"s":"12h","t":6,"v":1.35,"e":0.15},{"s":"12h","t":6.5,"v":1.37,"e":0.15},{"s":"12h","t":7,"v":1.25,"e":0.12},{"s":"12h","t":7.5,"v":1.12,"e":0.12},{"s":"12h","t":8,"v":1.05,"e":0.1},{"s":"12h","t":8.5,"v":1.02,"e":0.1},{"s":"12h","t":9,"v":1.0,"e":0.1},{"s":"12h","t":9.5,"v":0.98,"e":0.1},{"s":"12h","t":10,"v":0.97,"e":0.1},{"s":"12h","t":10.5,"v":0.95,"e":0.1},{"s":"12h","t":11,"v":0.95,"e":0.1},{"s":"12h","t":11.5,"v":0.93,"e":0.1},
{"s":"24 h","t":0,"v":0,"e":0},{"s":"24 h","t":0.5,"v":0.02,"e":0.02},{"s":"24 h","t":1,"v":0.2,"e":0.06},{"s":"24 h","t":1.5,"v":0.5,"e":0.1},{"s":"24 h","t":2,"v":0.8,"e":0.15},{"s":"24 h","t":2.5,"v":0.95,"e":0.18},{"s":"24 h","t":3,"v":1.1,"e":0.18},{"s":"24 h","t":3.5,"v":1.2,"e":0.18},{"s":"24 h","t":4,"v":1.3,"e":0.2},{"s":"24 h","t":4.5,"v":1.4,"e":0.2},{"s":"24 h","t":5,"v":1.45,"e":0.2},{"s":"24 h","t":5.5,"v":1.5,"e":0.2},{"s":"24 h","t":6,"v":1.52,"e":0.2},{"s":"24 h","t":6.5,"v":1.57,"e":0.2},{"s":"24 h","t":7,"v":1.5,"e":0.15},{"s":"24 h","t":7.5,"v":1.4,"e":0.12},{"s":"24 h","t":8,"v":1.3,"e":0.1},{"s":"24 h","t":8.5,"v":1.25,"e":0.1},{"s":"24 h","t":9,"v":1.2,"e":0.1},{"s":"24 h","t":9.5,"v":1.17,"e":0.1},{"s":"24 h","t":10,"v":1.15,"e":0.1},{"s":"24 h","t":10.5,"v":1.12,"e":0.1},{"s":"24 h","t":11,"v":1.1,"e":0.1},{"s":"24 h","t":11.5,"v":1.08,"e":0.1},
{"s":"48 h","t":0,"v":0,"e":0},{"s":"48 h","t":0.5,"v":0.05,"e":0.05},{"s":"48 h","t":1,"v":0.3,"e":0.15},{"s":"48 h","t":1.5,"v":0.95,"e":0.3},{"s":"48 h","t":2,"v":1.6,"e":0.4},{"s":"48 h","t":2.5,"v":1.97,"e":0.45},{"s":"48 h","t":3,"v":2.2,"e":0.45},{"s":"48 h","t":3.5,"v":2.42,"e":0.45},{"s":"48 h","t":4,"v":2.55,"e":0.45},{"s":"48 h","t":4.5,"v":2.62,"e":0.45},{"s":"48 h","t":5,"v":2.7,"e":0.45},{"s":"48 h","t":5.5,"v":2.75,"e":0.45},{"s":"48 h","t":6,"v":2.77,"e":0.45},{"s":"48 h","t":6.5,"v":2.8,"e":0.45},{"s":"48 h","t":7,"v":2.2,"e":0.3},{"s":"48 h","t":7.5,"v":1.75,"e":0.15},{"s":"48 h","t":8,"v":1.5,"e":0.12},{"s":"48 h","t":8.5,"v":1.35,"e":0.1},{"s":"48 h","t":9,"v":1.28,"e":0.1},{"s":"48 h","t":9.5,"v":1.25,"e":0.1},{"s":"48 h","t":10,"v":1.2,"e":0.1},{"s":"48 h","t":10.5,"v":1.18,"e":0.1},{"s":"48 h","t":11,"v":1.15,"e":0.1},{"s":"48 h","t":11.5,"v":1.12,"e":0.1},
{"s":"S","t":0,"v":0,"e":0},{"s":"S","t":0.5,"v":0.02,"e":0.02},{"s":"S","t":1,"v":0.75,"e":0.1},{"s":"S","t":1.5,"v":2.05,"e":0.2},{"s":"S","t":2,"v":2.25,"e":0.3},{"s":"S","t":2.5,"v":2.22,"e":0.3},{"s":"S","t":3,"v":2.2,"e":0.3},{"s":"S","t":3.5,"v":2.2,"e":0.3},{"s":"S","t":4,"v":2.21,"e":0.3},{"s":"S","t":4.5,"v":2.22,"e":0.3},{"s":"S","t":5,"v":2.22,"e":0.3},{"s":"S","t":5.5,"v":2.22,"e":0.3},{"s":"S","t":6,"v":2.22,"e":0.3},{"s":"S","t":6.5,"v":2.22,"e":0.3},{"s":"S","t":7,"v":1.3,"e":0.25},{"s":"S","t":7.5,"v":0.95,"e":0.2},{"s":"S","t":8,"v":0.78,"e":0.2},{"s":"S","t":8.5,"v":0.68,"e":0.2},{"s":"S","t":9,"v":0.6,"e":0.2},{"s":"S","t":9.5,"v":0.58,"e":0.2},{"s":"S","t":10,"v":0.55,"e":0.2},{"s":"S","t":10.5,"v":0.52,"e":0.2},{"s":"S","t":11,"v":0.5,"e":0.2},{"s":"S","t":11.5,"v":0.48,"e":0.2}
]
},
"columns":1,
"spacing":9,
"resolve":{"scale":{"color":"independent","shape":"independent","fill":"independent","stroke":"independent"}},
"concat":[
{
 "title":{"text":"Weather during three year measuring periods","offset":2,"dx":28},
 "spacing":0,
 "resolve":{"scale":{"color":"independent","shape":"independent","fill":"independent","stroke":"independent"}},
 "hconcat":[
  {"width":1,"height":1,"view":{"stroke":null},"data":{"values":[{}]},"mark":{"type":"text","text":""},"encoding":{}},
  {"width":174,"height":142,"data":{"name":"w"},"transform":[{"filter":"datum.p=='a'"}],
   "encoding":{"x":{"field":"date","type":"temporal","scale":{"type":"utc","domain":[{"year":2013,"month":8,"date":1,"utc":true},{"year":2014,"month":6,"date":3,"utc":true}]},"axis":{"title":null,"format":"%b","tickCount":"month","labelAngle":-90,"labelFontSize":8.5,"labelOverlap":false}}},
   "layer":[
    {"mark":{"type":"area","stroke":"#9d9de2","strokeWidth":0.5,"opacity":0.85},
     "encoding":{"y":{"field":"sol","type":"quantitative","scale":{"domain":[0,1000]},"axis":{"orient":"right","values":[0,200,400,600,800,1000],"tickCount":12,"format":"d","labelOverlap":false,"labelFontSize":8,"labelPadding":0.5,"tickSize":2,"title":"Solar radiation (Watt m⁻²)","titleFontSize":9,"titlePadding":0,"labelColor":"#6f6fd2","titleColor":"#6f6fd2","domainColor":"#6f6fd2","tickColor":"#6f6fd2"}},
      "fill":{"datum":"Solar radiation","type":"nominal","scale":{"range":["#b9b9ee"]},"legend":{"title":null,"orient":"none","legendX":10,"legendY":19,"symbolType":"square","symbolSize":50,"labelFontSize":8.5}}}},
    {"layer":[
     {"transform":[{"fold":["min","max"],"as":["k","v"]}],"mark":{"type":"line","strokeWidth":0.9},
      "encoding":{"y":{"field":"v","type":"quantitative","scale":{"domain":[-32.3,31.8]},"axis":{"values":[-30,-15,0,15,30],"tickCount":12,"labelOverlap":false,"labelFontSize":8,"labelPadding":0.5,"tickSize":2,"title":"Temperature (ºC)","titleFontSize":8,"titlePadding":0}},
       "stroke":{"field":"k","type":"nominal","scale":{"domain":["min","max"],"range":["#111111","#e8251f"]},"legend":{"title":null,"orient":"none","legendX":10,"legendY":-1,"symbolType":"stroke","symbolSize":80,"symbolStrokeWidth":1.2,"labelFontSize":8.5,"labelExpr":"datum.label == 'min' ? 'Min temp' : 'Max temp'"}}}},
     {"data":{"values":[{}]},"mark":{"type":"text","font":"Open Sans","fontSize":15,"color":"#111"},"encoding":{"x":{"datum":{"year":2014,"month":5,"date":26,"utc":true},"type":"temporal"},"y":{"datum":25},"text":{"value":"a"}}}
    ]}
   ],
   "resolve":{"scale":{"y":"independent"}}
  },
  {"width":181,"height":142,"data":{"name":"w"},"transform":[{"filter":"datum.p=='b'"}],
   "encoding":{"x":{"field":"date","type":"temporal","scale":{"type":"utc","domain":[{"year":2013,"month":8,"date":1,"utc":true},{"year":2014,"month":6,"date":3,"utc":true}]},"axis":{"title":null,"format":"%b","tickCount":"month","labelAngle":-90,"labelFontSize":8.5,"labelOverlap":false}}},
   "layer":[
    {"mark":{"type":"area","stroke":"#9d9de2","strokeWidth":0.5,"opacity":0.85,"color":"#b9b9ee"},
     "encoding":{"y":{"field":"sol","type":"quantitative","scale":{"domain":[0,1000]},"axis":{"orient":"right","values":[0,200,400,600,800,1000],"tickCount":12,"format":"d","labelOverlap":false,"labelFontSize":8,"labelPadding":0.5,"tickSize":2,"title":null,"labelColor":"#6f6fd2","domainColor":"#6f6fd2","tickColor":"#6f6fd2"}}}},
    {"layer":[
     {"transform":[{"fold":["min","max"],"as":["k","v"]}],"mark":{"type":"line","strokeWidth":0.9},
      "encoding":{"y":{"field":"v","type":"quantitative","scale":{"domain":[-32.3,31.8]},"axis":{"values":[-30,-15,0,15,30],"tickCount":12,"labelOverlap":false,"labelFontSize":8,"labelPadding":0.5,"tickSize":2,"title":null}},
       "stroke":{"field":"k","type":"nominal","scale":{"domain":["min","max"],"range":["#111111","#e8251f"]},"legend":null}}},
     {"data":{"values":[{}]},"mark":{"type":"text","font":"Open Sans","fontSize":15,"color":"#111"},"encoding":{"x":{"datum":{"year":2014,"month":5,"date":26,"utc":true},"type":"temporal"},"y":{"datum":25},"text":{"value":"b"}}}
    ]}
   ],
   "resolve":{"scale":{"y":"independent"}}
  },
  {"width":7,"height":1,"view":{"stroke":null},"data":{"values":[{}]},"mark":{"type":"text","text":""},"encoding":{}},
  {"width":178,"height":142,"data":{"name":"w"},"transform":[{"filter":"datum.p=='c'"}],
   "encoding":{"x":{"field":"date","type":"temporal","scale":{"type":"utc","domain":[{"year":2013,"month":8,"date":1,"utc":true},{"year":2014,"month":6,"date":3,"utc":true}]},"axis":{"title":null,"format":"%b","tickCount":"month","labelAngle":-90,"labelFontSize":8.5,"labelOverlap":false}}},
   "layer":[
    {"mark":{"type":"area","stroke":"#9d9de2","strokeWidth":0.5,"opacity":0.85,"color":"#b9b9ee"},
     "encoding":{"y":{"field":"sol","type":"quantitative","scale":{"domain":[0,1000]},"axis":{"orient":"right","values":[0,200,400,600,800,1000],"tickCount":12,"format":"d","labelOverlap":false,"labelFontSize":8,"labelPadding":0.5,"tickSize":2,"title":null,"labelColor":"#6f6fd2","domainColor":"#6f6fd2","tickColor":"#6f6fd2"}}}},
    {"layer":[
     {"transform":[{"fold":["min","max"],"as":["k","v"]}],"mark":{"type":"line","strokeWidth":0.9},
      "encoding":{"y":{"field":"v","type":"quantitative","scale":{"domain":[-32.3,31.8]},"axis":{"values":[-30,-15,0,15,30],"tickCount":12,"labelOverlap":false,"labelFontSize":8,"labelPadding":0.5,"tickSize":2,"title":null}},
       "stroke":{"field":"k","type":"nominal","scale":{"domain":["min","max"],"range":["#111111","#e8251f"]},"legend":null}}},
     {"data":{"values":[{}]},"mark":{"type":"text","font":"Open Sans","fontSize":15,"color":"#111"},"encoding":{"x":{"datum":{"year":2014,"month":5,"date":26,"utc":true},"type":"temporal"},"y":{"datum":25},"text":{"value":"c"}}}
    ]}
   ],
   "resolve":{"scale":{"y":"independent"}}
  }
 ]
},
{
 "title":{"text":"PSII photochemistry","offset":0,"dx":18},
 "spacing":0,
 "resolve":{"scale":{"color":"independent","shape":"independent","fill":"independent","stroke":"independent"}},
 "hconcat":[
  {"width":1,"height":1,"view":{"stroke":null},"data":{"values":[{}]},"mark":{"type":"text","text":""},"encoding":{}},
  {"width":169,"height":134,
   "encoding":{"x":{"field":"c","type":"nominal","sort":null,"scale":{"domain":["Autumn","Winter","E. Spring","L. Spring","Summer"],"paddingInner":0.72,"paddingOuter":0.13,"align":0.05},"axis":{"title":null,"labelAngle":0,"labelFontSize":9,"labelOverlap":false}}},
   "layer":[
    {"layer":[
     {"data":{"name":"bars"},"transform":[{"filter":"datum.p=='d'"}],"mark":{"type":"bar","fill":"white","stroke":"#444","strokeWidth":1},
      "encoding":{"y":{"field":"m","type":"quantitative","scale":{"domain":[0,1.5]},"axis":{"orient":"right","values":[0,0.3,0.6,0.9,1.2,1.5],"tickCount":12,"format":".1f","labelOverlap":false,"tickSize":2,"labelPadding":0.5,"title":"Fm (Maximal Fluorescence)","titlePadding":0}}}},
     {"data":{"name":"bars"},"transform":[{"filter":"datum.p=='d'"}],"mark":{"type":"errorbar","ticks":true,"color":"#333"},"encoding":{"y":{"field":"lo","type":"quantitative","title":"Fm (Maximal Fluorescence)"},"y2":{"field":"hi"}}},
     {"data":{"name":"pts"},"transform":[{"filter":"datum.p=='d'"}],"mark":{"type":"point","filled":true,"size":12,"color":"#8a8a8a","opacity":1},"encoding":{"y":{"field":"v","type":"quantitative","title":"Fm (Maximal Fluorescence)"}}},
     {"data":{"name":"stars"},"transform":[{"filter":"datum.p=='d'"}],"mark":{"type":"text","fontSize":13,"color":"#444"},"encoding":{"y":{"field":"y","type":"quantitative","title":"Fm (Maximal Fluorescence)"},"text":{"field":"t"}}},
     {"data":{"values":[{}]},"mark":{"type":"text","font":"Open Sans","fontSize":15,"color":"#111"},"encoding":{"x":{"datum":"Autumn","type":"nominal"},"y":{"datum":1.36,"title":"Fm (Maximal Fluorescence)"},"text":{"value":"d"}}}
    ]},
    {"data":{"name":"fo"},"layer":[
     {"mark":{"type":"line","color":"#e68ee2","strokeDash":[4,3],"strokeWidth":1.2},"encoding":{"y":{"field":"v","type":"quantitative","scale":{"domain":[-0.5,0.5]},"axis":{"orient":"left","values":[-0.5,-0.25,0,0.25,0.5],"tickCount":12,"format":".2f","labelOverlap":false,"title":"Fo (Dark minimal fluorescence)","titlePadding":4,"labelColor":"#d35fcf","titleColor":"#d35fcf"}}}},
     {"mark":{"type":"square","color":"#d35fcf","size":28,"opacity":1},"encoding":{"y":{"field":"v","type":"quantitative","title":"Fo (Dark minimal fluorescence)"}}}
    ]}
   ],
   "resolve":{"scale":{"y":"independent"}}
  },
  {"width":180,"height":134,
   "encoding":{"x":{"field":"c","type":"nominal","sort":null,"scale":{"domain":["Autumn","Winter","E.Spring","L.Spring","Summer"],"paddingInner":0.735,"paddingOuter":0.255},"axis":{"title":null,"labelAngle":0,"labelFontSize":9,"labelOverlap":false}}},
   "layer":[
    {"data":{"name":"bars"},"transform":[{"filter":"datum.p=='e'"}],"mark":{"type":"bar","fill":"white","stroke":"#444","strokeWidth":1},
     "encoding":{"y":{"field":"m","type":"quantitative","scale":{"domain":[0,1]},"axis":{"values":[0,0.2,0.4,0.6,0.8,1],"tickCount":12,"format":".1f","labelOverlap":false,"title":"Fv/Fm","labelFontSize":9,"titleFontSize":10,"titlePadding":0,"labelPadding":0.5,"tickSize":2}}}},
    {"data":{"name":"bars"},"transform":[{"filter":"datum.p=='e'"}],"mark":{"type":"errorbar","ticks":true,"color":"#333"},"encoding":{"y":{"field":"lo","type":"quantitative","title":"Fv/Fm"},"y2":{"field":"hi"}}},
    {"data":{"name":"pts"},"transform":[{"filter":"datum.p=='e'"}],"mark":{"type":"point","filled":true,"size":12,"color":"#8a8a8a","opacity":1},"encoding":{"y":{"field":"v","type":"quantitative","title":"Fv/Fm"}}},
    {"data":{"name":"stars"},"transform":[{"filter":"datum.p=='e'"}],"mark":{"type":"text","fontSize":13,"color":"#444"},"encoding":{"y":{"field":"y","type":"quantitative","title":"Fv/Fm"},"text":{"field":"t"}}},
    {"data":{"values":[{}]},"mark":{"type":"text","font":"Open Sans","fontSize":15,"color":"#111"},"encoding":{"x":{"datum":"Autumn","type":"nominal"},"y":{"datum":0.925,"title":"Fv/Fm"},"text":{"value":"e"}}}
   ]
  },
  {"width":11,"height":1,"view":{"stroke":null},"data":{"values":[{}]},"mark":{"type":"text","text":""},"encoding":{}},
  {"width":180,"height":134,
   "encoding":{"x":{"field":"c","type":"nominal","sort":null,"scale":{"domain":["Autumn","Winter","E. Spring","L. Spring","Summer"],"paddingInner":0.76,"paddingOuter":0.45},"axis":{"title":null,"labelAngle":0,"labelFontSize":8.5,"labelOverlap":false}}},
   "layer":[
    {"data":{"name":"bars"},"transform":[{"filter":"datum.p=='f'"}],"mark":{"type":"bar","fill":"white","stroke":"#444","strokeWidth":1},
     "encoding":{"y":{"field":"m","type":"quantitative","scale":{"domain":[0,0.6]},"axis":{"values":[0,0.2,0.4,0.6],"tickCount":12,"format":".1f","labelOverlap":false,"title":"ϕ(II) (Quantum yield of PSII)","labelFontSize":9.5,"titleFontSize":9.5}}}},
    {"data":{"name":"bars"},"transform":[{"filter":"datum.p=='f'"}],"mark":{"type":"errorbar","ticks":true,"color":"#333"},"encoding":{"y":{"field":"lo","type":"quantitative","title":"ϕ(II) (Quantum yield of PSII)"},"y2":{"field":"hi"}}},
    {"data":{"name":"pts"},"transform":[{"filter":"datum.p=='f'"}],"mark":{"type":"point","filled":true,"size":12,"color":"#8a8a8a","opacity":1},"encoding":{"y":{"field":"v","type":"quantitative","title":"ϕ(II) (Quantum yield of PSII)"}}},
    {"data":{"name":"stars"},"transform":[{"filter":"datum.p=='f'"}],"mark":{"type":"text","fontSize":13,"color":"#444"},"encoding":{"y":{"field":"y","type":"quantitative","title":"ϕ(II) (Quantum yield of PSII)"},"text":{"field":"t"}}},
    {"data":{"values":[{}]},"mark":{"type":"text","font":"Open Sans","fontSize":15,"color":"#111"},"encoding":{"x":{"datum":"Autumn","type":"nominal"},"y":{"datum":0.545,"title":"ϕ(II) (Quantum yield of PSII)"},"text":{"value":"f"}}}
   ]
  }
 ]
},
{
 "title":{"text":"Regulated and non-regulated energy dissipation","offset":16,"dx":25},
 "spacing":0,
 "resolve":{"scale":{"color":"independent","shape":"independent","fill":"independent","stroke":"independent"}},
 "hconcat":[
  {"width":1,"height":1,"view":{"stroke":null},"data":{"values":[{}]},"mark":{"type":"text","text":""},"encoding":{}},
  {"width":180,"height":146,"data":{"name":"g"},
   "encoding":{"x":{"field":"x","type":"quantitative","scale":{"domain":[-37,1514]},"axis":{"values":[0,500,1000,1500],"tickCount":12,"format":"d","labelOverlap":false,"title":"PAR (µmol m⁻² s⁻¹)","labelFontSize":11,"titleFontSize":11.5}}},
   "layer":[
    {"mark":{"type":"errorbar","ticks":true},"encoding":{"y":{"field":"v","type":"quantitative","scale":{"domain":[-0.47,5]},"axis":{"values":[0,1,2,3,4,5],"tickCount":12,"format":"d","labelOverlap":false,"title":"NPQ (Fm/Fm' -1)","labelFontSize":11,"titleFontSize":10.5,"titlePadding":0,"tickSize":2,"labelPadding":0.5}},"yError":{"field":"e"},"color":{"field":"s","type":"nominal","scale":{"domain":["Autumn","Winter","E. Spring","L. Spring","Summer"],"range":["#e8251f","#c4c4c4","#b3dcf2","#f4d315","#2e8b2e"]}}}},
    {"mark":{"type":"line","interpolate":"monotone","strokeWidth":1},"encoding":{"y":{"field":"v","type":"quantitative"},"color":{"field":"s","type":"nominal"}}},
    {"mark":{"type":"point","filled":true,"size":36,"opacity":1},"encoding":{"y":{"field":"v","type":"quantitative"},
      "color":{"field":"s","type":"nominal","legend":{"title":null,"orient":"none","legendX":20,"legendY":2,"symbolSize":36,"labelFontSize":9}},
      "shape":{"field":"s","type":"nominal","scale":{"domain":["Autumn","Winter","E. Spring","L. Spring","Summer"],"range":["square","circle","triangle-up","triangle-down","diamond"]},"legend":{"title":null,"orient":"none","legendX":20,"legendY":2,"symbolSize":36,"labelFontSize":9}}}},
    {"data":{"values":[{}]},"mark":{"type":"text","font":"Open Sans","fontSize":17,"color":"#111"},"encoding":{"x":{"datum":60},"y":{"datum":4.5},"text":{"value":"g"}}}
   ]
  },
  {"width":176,"height":147,
   "encoding":{"x":{"field":"t","type":"quantitative","scale":{"domain":[-0.55,12]},"axis":{"values":[0,6,12],"tickCount":12,"labelOverlap":false,"title":"Time (Min)","labelFontSize":14,"titleFontSize":12.5,"titlePadding":1}}},
   "layer":[
    {"data":{"values":[{"a":6,"b":12}]},"mark":{"type":"rect","color":"#e7eae8"},"encoding":{"x":{"field":"a","type":"quantitative"},"x2":{"field":"b"}}},
    {"data":{"name":"h"},"layer":[
     {"mark":{"type":"errorbar","ticks":true},"encoding":{"y":{"field":"v","type":"quantitative","scale":{"domain":[-0.9,3.55]},"axis":{"values":[0,1,2,3],"tickCount":12,"format":"d","labelOverlap":false,"title":"NPQ (Fm/Fm' -1)","labelFontSize":10.5,"titleFontSize":10.5,"tickSize":2,"labelPadding":0.5}},"yError":{"field":"e"},"color":{"field":"s","type":"nominal","scale":{"domain":["Autumn","Winter","E. Spring","L. Spring","Summer"],"range":["#e8251f","#c4c4c4","#b3dcf2","#f4d315","#2e8b2e"]}}}},
     {"mark":{"type":"line","strokeWidth":1},"encoding":{"y":{"field":"v","type":"quantitative"},"color":{"field":"s","type":"nominal"}}},
     {"mark":{"type":"point","filled":true,"size":30,"opacity":1},"encoding":{"y":{"field":"v","type":"quantitative"},
       "color":{"field":"s","type":"nominal","legend":{"title":null,"orient":"top-right","offset":6,"symbolSize":36,"labelFontSize":9}},
       "shape":{"field":"s","type":"nominal","scale":{"domain":["Autumn","Winter","E. Spring","L. Spring","Summer"],"range":["square","circle","triangle-up","triangle-down","diamond"]},"legend":{"title":null,"orient":"top-right","offset":6,"symbolSize":36,"labelFontSize":9}}}}
    ]},
    {"data":{"values":[{"x":3.4,"y":-0.55,"t":"Light"},{"x":9.4,"y":-0.55,"t":"Dark"}]},"mark":{"type":"text","fontSize":11,"color":"#222"},"encoding":{"y":{"field":"y","type":"quantitative"},"x":{"field":"x","type":"quantitative"},"text":{"field":"t"}}},
    {"data":{"values":[{}]},"mark":{"type":"text","font":"Open Sans","fontSize":16,"color":"#111"},"encoding":{"x":{"datum":0.3},"y":{"datum":3.2},"text":{"value":"h"}}}
   ]
  },
  {"width":18,"height":1,"view":{"stroke":null},"data":{"values":[{}]},"mark":{"type":"text","text":""},"encoding":{}},
  {"width":177,"height":148,
   "encoding":{"x":{"field":"c","type":"nominal","sort":null,"scale":{"domain":["Autumn","Winter","E.Spring","L.Spring","Summer"],"paddingInner":0.745,"paddingOuter":0.38},"axis":{"title":null,"labelAngle":0,"labelFontSize":9.5,"labelOverlap":false}}},
   "layer":[
    {"data":{"name":"bars"},"transform":[{"filter":"datum.p=='i'"}],"mark":{"type":"bar","fill":"white","stroke":"#444","strokeWidth":1},
     "encoding":{"y":{"field":"m","type":"quantitative","scale":{"domain":[0,1.09]},"axis":{"values":[0,0.2,0.4,0.6,0.8,1],"tickCount":12,"format":".1f","labelOverlap":false,"title":["ϕ(NO) (Quantum yield of","non-regulated dissipation )"],"labelFontSize":11,"titleFontSize":10}}}},
    {"data":{"name":"bars"},"transform":[{"filter":"datum.p=='i'"}],"mark":{"type":"errorbar","ticks":true,"color":"#333"},"encoding":{"y":{"field":"lo","type":"quantitative","title":["ϕ(NO) (Quantum yield of","non-regulated dissipation )"]},"y2":{"field":"hi"}}},
    {"data":{"name":"pts"},"transform":[{"filter":"datum.p=='i'"}],"mark":{"type":"point","filled":true,"size":12,"color":"#8a8a8a","opacity":1},"encoding":{"y":{"field":"v","type":"quantitative","title":["ϕ(NO) (Quantum yield of","non-regulated dissipation )"]}}},
    {"data":{"name":"stars"},"transform":[{"filter":"datum.p=='i'"}],"mark":{"type":"text","fontSize":13,"color":"#444"},"encoding":{"y":{"field":"y","type":"quantitative","title":["ϕ(NO) (Quantum yield of","non-regulated dissipation )"]},"text":{"field":"t"}}},
    {"data":{"values":[{}]},"mark":{"type":"text","font":"Open Sans","fontSize":15,"color":"#111"},"encoding":{"x":{"datum":"Autumn","type":"nominal"},"y":{"datum":1.0,"title":["ϕ(NO) (Quantum yield of","non-regulated dissipation )"]},"text":{"value":"i"}}}
   ]
  }
 ]
},
{
 "title":{"text":"Recovery of PSII under artificial conditions","offset":18,"dx":26},
 "spacing":0,
 "resolve":{"scale":{"color":"independent","shape":"independent","fill":"independent","stroke":"independent"}},
 "hconcat":[
  {"width":1,"height":1,"view":{"stroke":null},"data":{"values":[{}]},"mark":{"type":"text","text":""},"encoding":{}},
  {"width":174,"height":138,"data":{"name":"j"},
   "encoding":{"x":{"field":"c","type":"ordinal","sort":null,"scale":{"type":"point","padding":0.26,"domain":["0h","3h","6h","12h","24h","48h","S"]},"axis":{"title":"Time of Recovery (h)","labelAngle":0,"labelOverlap":false,"labelFontSize":9.5,"titleFontSize":10.5}}},
   "layer":[
    {"transform":[{"filter":"datum.s=='Fo'"}],"layer":[
     {"mark":{"type":"errorbar","ticks":true,"color":"#111"},"encoding":{"y":{"field":"v","type":"quantitative","title":"Fluorescence"},"yError":{"field":"e"}}},
     {"mark":{"type":"line","strokeWidth":1},"encoding":{"y":{"field":"v","type":"quantitative","title":"Fluorescence","scale":{"domain":[-0.3,0.3]},"axis":{"orient":"left","values":[-0.3,-0.2,-0.1,0,0.1,0.2,0.3],"tickCount":12,"format":".1f","labelOverlap":false,"title":"Fluorescence","titleFontSize":10.5,"titlePadding":0,"labelFontSize":9,"tickSize":2,"labelPadding":0.5}},
       "color":{"datum":"Fo","type":"nominal","scale":{"domain":["Fo","Fm","Fv/Fm"],"range":["#111111","#e8251f","#4b4bc4"]},"legend":{"title":null,"orient":"top-right","offset":8,"symbolType":"stroke","symbolSize":200,"symbolStrokeWidth":1.5,"labelFontSize":9.5}}}},
     {"mark":{"type":"square","size":14,"color":"#111","opacity":1},"encoding":{"y":{"field":"v","type":"quantitative","title":"Fluorescence"}}},
     {"data":{"values":[{"a":"0h","b":"12h","y":0.05}]},"mark":{"type":"rule","color":"#5b9bd5","strokeWidth":2},"encoding":{"x":{"field":"a","type":"ordinal"},"x2":{"field":"b"},"y":{"field":"y","type":"quantitative","title":"Fluorescence"}}},
     {"data":{"values":[{"c":"3h","y":0.054,"t":"***"}]},"mark":{"type":"text","fontSize":13,"color":"#5b9bd5","align":"left","dx":3},"encoding":{"y":{"field":"y","type":"quantitative","title":"Fluorescence"},"text":{"field":"t"}}},
     {"data":{"values":[{"c":"24h","y":0.0,"t":"**"}]},"mark":{"type":"text","fontSize":13,"color":"#5b9bd5"},"encoding":{"y":{"field":"y","type":"quantitative","title":"Fluorescence"},"text":{"field":"t"}}},
     {"data":{"values":[{}]},"mark":{"type":"text","font":"Open Sans","fontSize":15,"color":"#111"},"encoding":{"x":{"datum":"0h","type":"ordinal"},"y":{"datum":0.245,"title":"Fluorescence"},"text":{"value":"j"}}}
    ]},
    {"transform":[{"filter":"datum.s=='Fm'"}],"layer":[
     {"mark":{"type":"errorbar","ticks":true,"color":"#e8251f"},"encoding":{"y":{"field":"v","type":"quantitative","title":null},"yError":{"field":"e"}}},
     {"mark":{"type":"line","strokeWidth":1},"encoding":{"y":{"field":"v","type":"quantitative","title":null,"scale":{"domain":[0,1.1]},"axis":{"orient":"right","values":[0,0.2,0.4,0.6,0.8,1],"tickCount":12,"format":".1f","labelOverlap":false,"title":null,"labelColor":"#e8251f","domainColor":"#e8251f","tickColor":"#e8251f","labelFontSize":9.5}},"color":{"datum":"Fm","type":"nominal"}}},
     {"mark":{"type":"square","size":12,"color":"#e8251f","opacity":1},"encoding":{"y":{"field":"v","type":"quantitative","title":null}}}
    ]},
    {"transform":[{"filter":"datum.s=='Fv/Fm'"}],"layer":[
     {"mark":{"type":"errorbar","ticks":true,"color":"#4b4bc4"},"encoding":{"y":{"field":"v","type":"quantitative","title":null},"yError":{"field":"e"}}},
     {"mark":{"type":"line","strokeWidth":1},"encoding":{"y":{"field":"v","type":"quantitative","title":null,"scale":{"domain":[0,1.1]},"axis":{"orient":"right","offset":20,"values":[0,0.2,0.4,0.6,0.8,1],"tickCount":12,"format":".1f","labelOverlap":false,"title":null,"labelColor":"#6a6ad0","domainColor":"#6a6ad0","tickColor":"#6a6ad0","labelFontSize":9.5}},"color":{"datum":"Fv/Fm","type":"nominal"}}},
     {"mark":{"type":"square","size":14,"color":"#4b4bc4","opacity":1},"encoding":{"y":{"field":"v","type":"quantitative","title":null}}}
    ]}
   ],
   "resolve":{"scale":{"y":"independent"}}
  },
  {"width":4,"height":1,"view":{"stroke":null},"data":{"values":[{}]},"mark":{"type":"text","text":""},"encoding":{}},
  {"width":173,"height":137,
   "encoding":{"x":{"field":"c","type":"nominal","sort":null,"scale":{"domain":["0h","3h","6h","12h","24h","48h","S"],"paddingInner":0.5,"paddingOuter":0.25},"axis":{"title":"Time of Recovery (h)","labelAngle":0,"labelOverlap":false,"labelFontSize":9.5,"titleFontSize":10.5}}},
   "layer":[
    {"data":{"name":"bars"},"transform":[{"filter":"datum.p=='k'"}],"mark":{"type":"bar","fill":"white","stroke":"#444","strokeWidth":1},
     "encoding":{"y":{"field":"m","type":"quantitative","scale":{"domain":[0,0.6]},"axis":{"values":[0,0.2,0.4,0.6],"tickCount":12,"format":".1f","labelOverlap":false,"title":"ϕ(II) (Quantum yield of PSII)","labelFontSize":9.5,"titleFontSize":8.5}}}},
    {"data":{"name":"bars"},"transform":[{"filter":"datum.p=='k'"}],"mark":{"type":"errorbar","ticks":true,"color":"#333"},"encoding":{"y":{"field":"lo","type":"quantitative","title":"ϕ(II) (Quantum yield of PSII)"},"y2":{"field":"hi"}}},
    {"data":{"name":"pts"},"transform":[{"filter":"datum.p=='k'"}],"mark":{"type":"point","filled":true,"size":12,"color":"#8a8a8a","opacity":1},"encoding":{"y":{"field":"v","type":"quantitative","title":"ϕ(II) (Quantum yield of PSII)"}}},
    {"data":{"name":"stars"},"transform":[{"filter":"datum.p=='k'"}],"mark":{"type":"text","fontSize":13,"color":"#444"},"encoding":{"y":{"field":"y","type":"quantitative","title":"ϕ(II) (Quantum yield of PSII)"},"text":{"field":"t"}}},
    {"data":{"values":[{"a":"0h","b":"12h","y":0.324}]},"mark":{"type":"rule","color":"#222","strokeWidth":1.2},"encoding":{"x":{"field":"a","type":"nominal"},"x2":{"field":"b"},"y":{"field":"y","type":"quantitative","title":"ϕ(II) (Quantum yield of PSII)"}}},
    {"data":{"values":[{"c":"3h","y":0.337,"t":"***"}]},"mark":{"type":"text","fontSize":13,"color":"#444","align":"left","dx":3},"encoding":{"y":{"field":"y","type":"quantitative","title":"ϕ(II) (Quantum yield of PSII)"},"text":{"field":"t"}}},
    {"data":{"values":[{}]},"mark":{"type":"text","font":"Open Sans","fontSize":15,"color":"#111"},"encoding":{"x":{"datum":"0h","type":"nominal"},"y":{"datum":0.553,"title":"ϕ(II) (Quantum yield of PSII)"},"text":{"value":"k"}}}
   ]
  },
  {"width":176,"height":135,
   "encoding":{"x":{"field":"t","type":"quantitative","scale":{"domain":[-0.5,12]},"axis":{"values":[0,6,12],"tickCount":12,"labelOverlap":false,"title":"Time (Min)","labelFontSize":13,"titleFontSize":12,"titlePadding":1}}},
   "layer":[
    {"data":{"values":[{"a":6.5,"b":12}]},"mark":{"type":"rect","color":"#e7eae8"},"encoding":{"x":{"field":"a","type":"quantitative"},"x2":{"field":"b"}}},
    {"data":{"name":"l"},"layer":[
     {"mark":{"type":"errorbar","ticks":true},"encoding":{"y":{"field":"v","type":"quantitative","scale":{"domain":[-0.26,3.51]},"axis":{"values":[0,1,2,3],"tickCount":12,"format":"d","labelOverlap":false,"title":"NPQ (Fm/Fm'-1)","labelFontSize":10.5,"titleFontSize":10.5}},"yError":{"field":"e"},"color":{"field":"s","type":"nominal","scale":{"domain":["0 h","3 h","6 h","12h","24 h","48 h","S"],"range":["#c9e7f4","#a2d8ec","#6cc4e2","#8a80d8","#5b50c8","#4a3cbc","#1f7a45"]}}}},
     {"mark":{"type":"line","interpolate":"monotone","strokeWidth":1},"encoding":{"y":{"field":"v","type":"quantitative"},"color":{"field":"s","type":"nominal"}}},
     {"mark":{"type":"point","filled":true,"size":22,"opacity":1},"encoding":{"y":{"field":"v","type":"quantitative"},
       "color":{"field":"s","type":"nominal","legend":{"title":null,"orient":"top-right","offset":5,"symbolSize":30,"labelFontSize":9.5}},
       "shape":{"field":"s","type":"nominal","scale":{"domain":["0 h","3 h","6 h","12h","24 h","48 h","S"],"range":["circle","circle","triangle-up","triangle-down","diamond","triangle-left","triangle-right"]},"legend":{"title":null,"orient":"top-right","offset":5,"symbolSize":30,"labelFontSize":9.5}}}}
    ]},
    {"data":{"values":[{"x":4.06,"y":-0.05,"t":"Light"},{"x":9.3,"y":-0.05,"t":"Dark"}]},"mark":{"type":"text","fontSize":11,"color":"#222"},"encoding":{"y":{"field":"y","type":"quantitative"},"x":{"field":"x","type":"quantitative"},"text":{"field":"t"}}},
    {"data":{"values":[{}]},"mark":{"type":"text","font":"Open Sans","fontSize":16,"color":"#111"},"encoding":{"x":{"datum":0.3},"y":{"datum":3.15},"text":{"value":"l"}}}
   ]
  }
 ]
}
]
}
